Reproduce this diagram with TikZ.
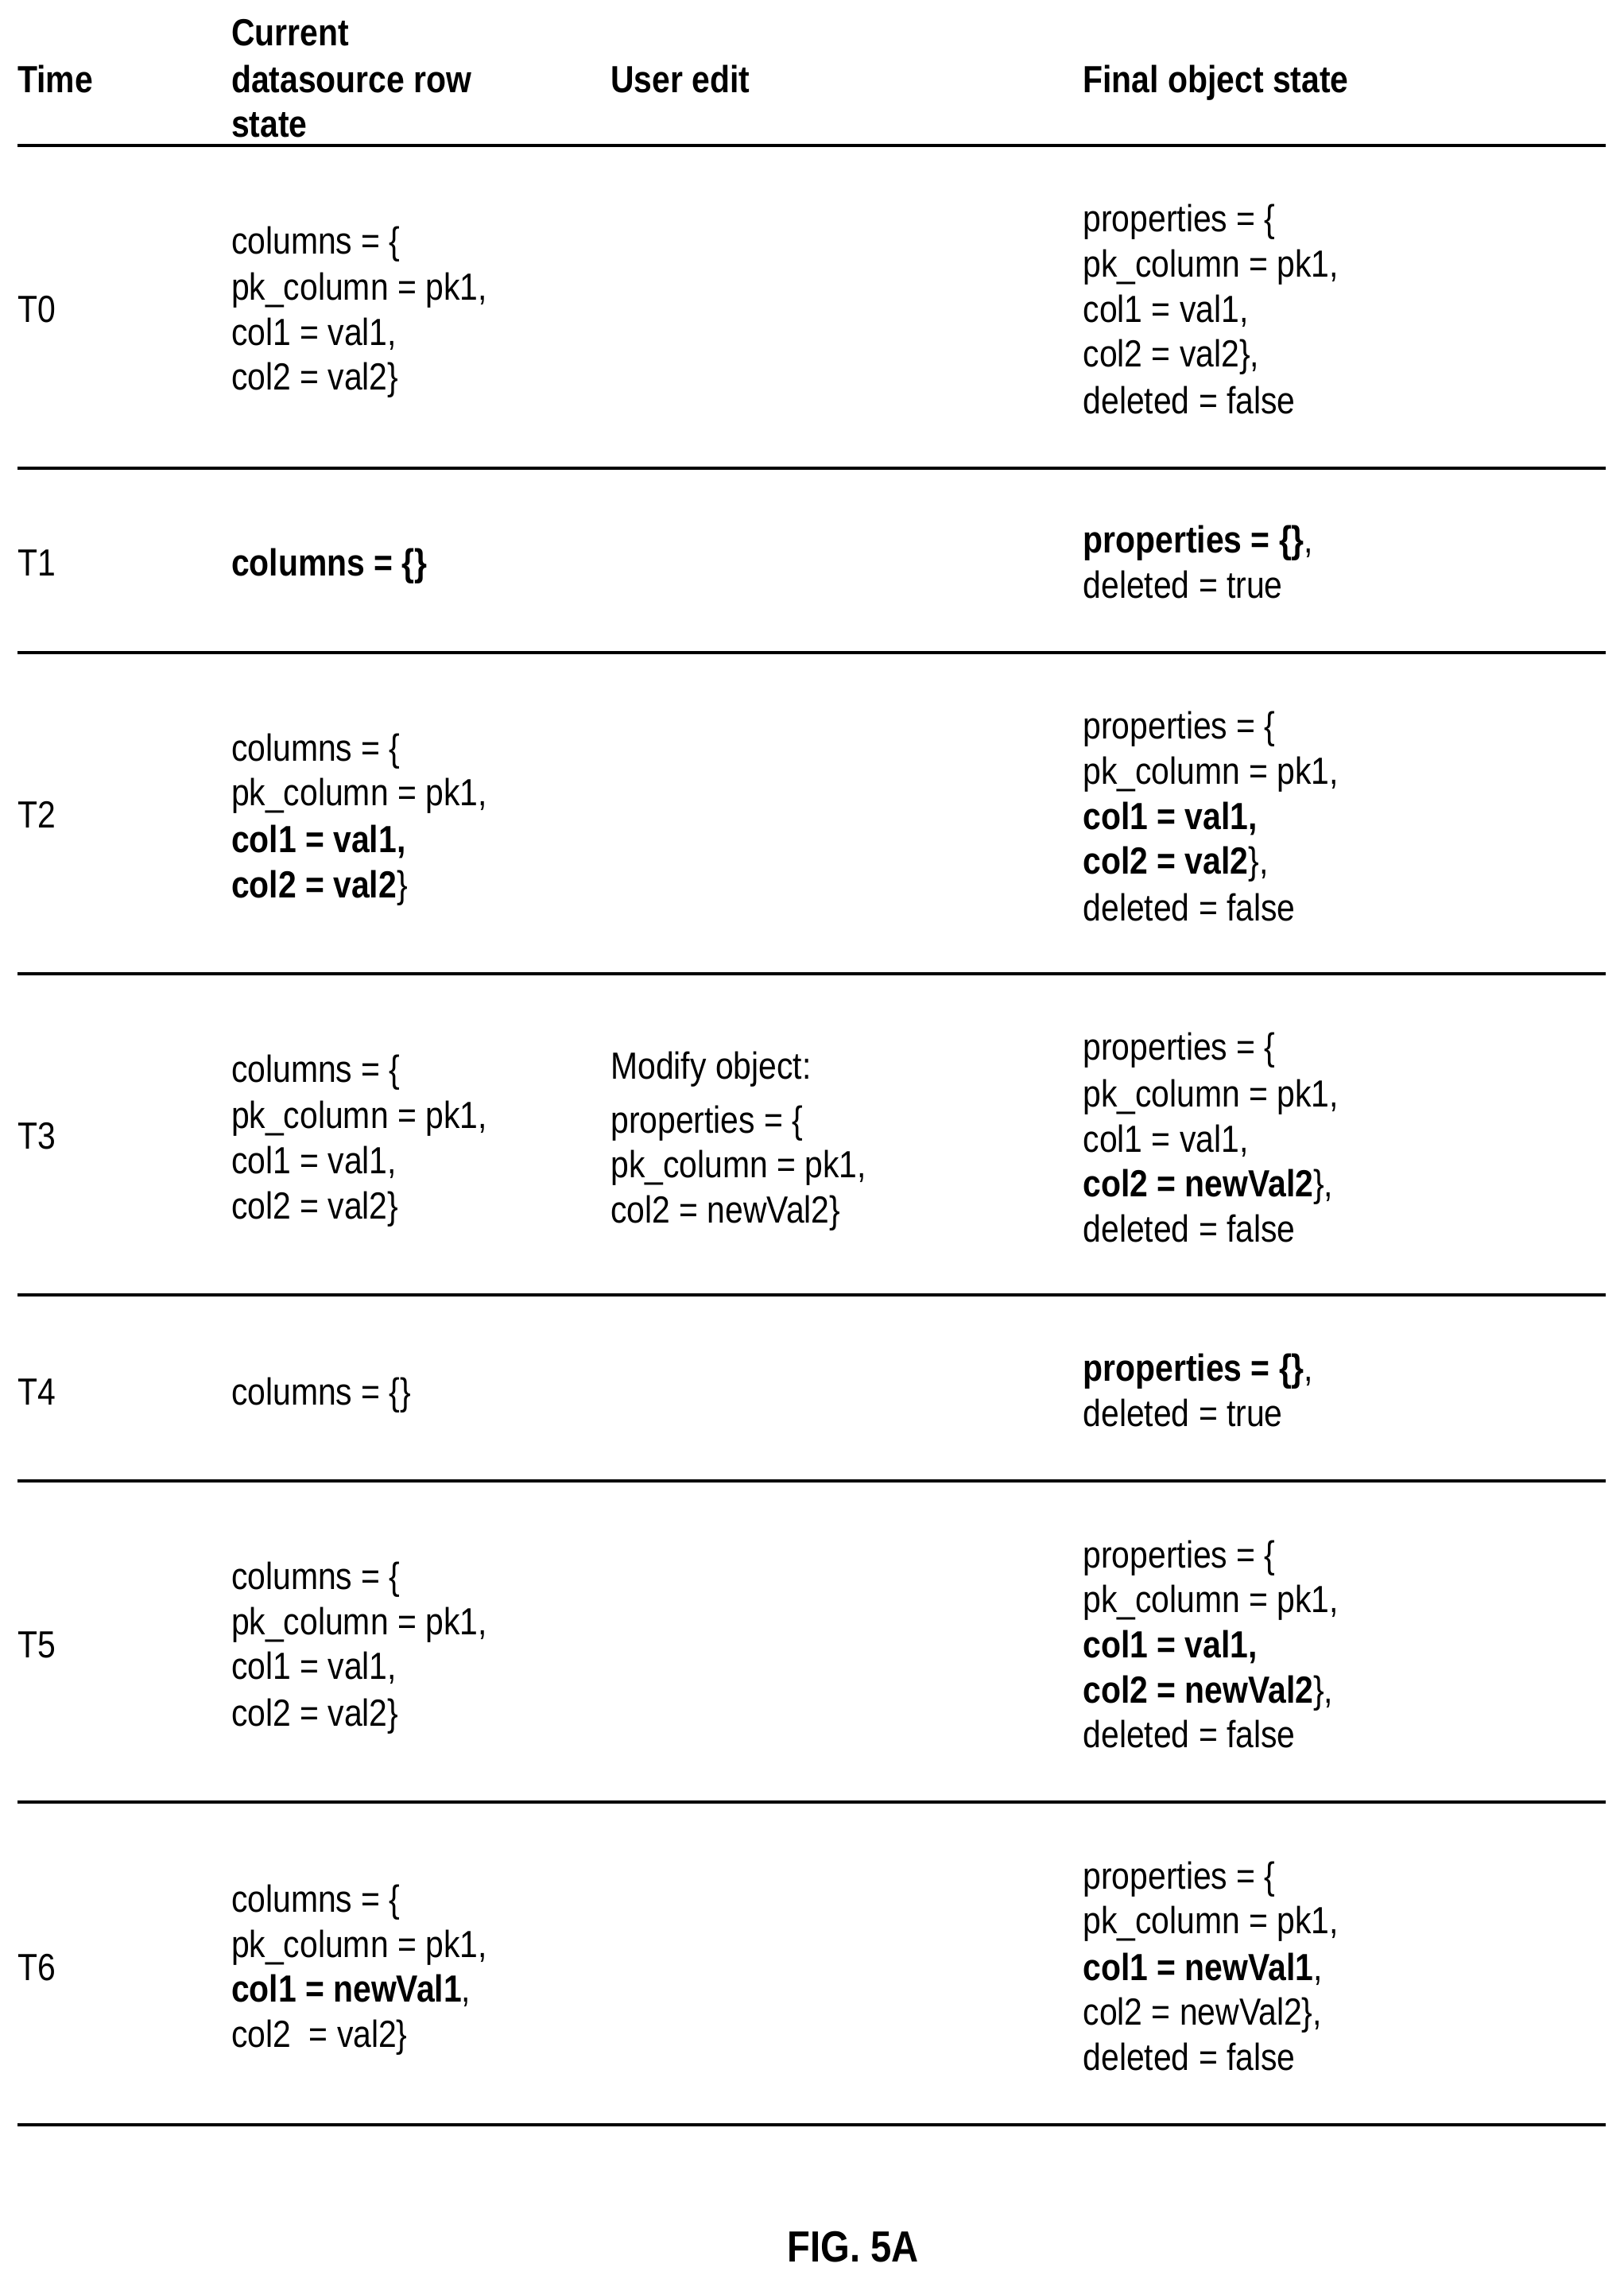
\documentclass[tikz,border=0pt]{standalone}
\usepackage{fontspec}
\setmainfont[FakeStretch=0.86]{Liberation Sans}
\newcommand\cl[4]{\node[txt] (#1) at (#2,-#3) {#4};}
\begin{document}
\begin{tikzpicture}[x=1pt,y=1pt,
  txt/.style={anchor=west,inner sep=0pt,text height=19pt,text depth=0pt,font=\fontsize{26}{31}\selectfont},
  rule/.style={line width=2pt}]
\useasboundingbox (0,0) rectangle (1117,-1568);
\fill[white] (0,0) rectangle (1117,-1568);
% header
\cl{h1}{12}{54}{\bfseries Time}
\cl{h2a}{159}{22}{\bfseries Current}
\cl{h2b}{159}{54}{\bfseries datasource row}
\cl{h2c}{159}{85}{\bfseries state}
\cl{h3}{420}{54}{\bfseries User edit}
\cl{h4}{745}{54}{\bfseries Final object state}
% rules
\foreach \y [count=\i] in {100,322,449,670,891,1019,1240,1462}
  {\coordinate (l\i) at (12,-\y); \coordinate (r\i) at (1105,-\y); \draw[rule] (l\i) -- (r\i);}
% T0
\cl{t0}{12}{212}{T0}
\cl{t0a}{159}{165}{columns = \{}
\cl{t0b}{159}{197}{pk\_column = pk1,}
\cl{t0c}{159}{228}{col1 = val1,}
\cl{t0d}{159}{259}{col2 = val2\}}
\cl{t0e}{745}{150}{properties = \{}
\cl{t0f}{745}{181}{pk\_column = pk1,}
\cl{t0g}{745}{212}{col1 = val1,}
\cl{t0h}{745}{243}{col2 = val2\},}
\cl{t0i}{745}{275}{deleted = false}
% T1
\cl{t1}{12}{387}{T1}
\cl{t1a}{159}{387}{\bfseries columns = \{\}}
\cl{t1b}{745}{371}{\textbf{properties = \{\}},}
\cl{t1c}{745}{402}{deleted = true}
% T2
\cl{t2}{12}{560}{T2}
\cl{t2a}{159}{514}{columns = \{}
\cl{t2b}{159}{545}{pk\_column = pk1,}
\cl{t2c}{159}{577}{\bfseries col1 = val1,}
\cl{t2d}{159}{608}{\textbf{col2 = val2}\}}
\cl{t2e}{745}{499}{properties = \{}
\cl{t2f}{745}{530}{pk\_column = pk1,}
\cl{t2g}{745}{561}{\bfseries col1 = val1,}
\cl{t2h}{745}{592}{\textbf{col2 = val2}\},}
\cl{t2i}{745}{624}{deleted = false}
% T3
\cl{t3}{12}{781}{T3}
\cl{t3a}{159}{735}{columns = \{}
\cl{t3b}{159}{767}{pk\_column = pk1,}
\cl{t3c}{159}{798}{col1 = val1,}
\cl{t3d}{159}{829}{col2 = val2\}}
\cl{t3m}{420}{733}{Modify object:}
\cl{t3n}{420}{770}{properties = \{}
\cl{t3o}{420}{801}{pk\_column = pk1,}
\cl{t3p}{420}{832}{col2 = newVal2\}}
\cl{t3e}{745}{720}{properties = \{}
\cl{t3f}{745}{752}{pk\_column = pk1,}
\cl{t3g}{745}{783}{col1 = val1,}
\cl{t3h}{745}{814}{\textbf{col2 = newVal2}\},}
\cl{t3i}{745}{845}{deleted = false}
% T4
\cl{t4}{12}{957}{T4}
\cl{t4a}{159}{957}{columns = \{\}}
\cl{t4b}{745}{941}{\textbf{properties = \{\}},}
\cl{t4c}{745}{972}{deleted = true}
% T5
\cl{t5}{12}{1131}{T5}
\cl{t5a}{159}{1084}{columns = \{}
\cl{t5b}{159}{1115}{pk\_column = pk1,}
\cl{t5c}{159}{1146}{col1 = val1,}
\cl{t5d}{159}{1178}{col2 = val2\}}
\cl{t5e}{745}{1069}{properties = \{}
\cl{t5f}{745}{1100}{pk\_column = pk1,}
\cl{t5g}{745}{1131}{\bfseries col1 = val1,}
\cl{t5h}{745}{1162}{\textbf{col2 = newVal2}\},}
\cl{t5i}{745}{1193}{deleted = false}
% T6
\cl{t6}{12}{1353}{T6}
\cl{t6a}{159}{1306}{columns = \{}
\cl{t6b}{159}{1337}{pk\_column = pk1,}
\cl{t6c}{159}{1368}{\textbf{col1 = newVal1},}
\cl{t6d}{159}{1399}{col2 \ = val2\}}
\cl{t6e}{745}{1290}{properties = \{}
\cl{t6f}{745}{1321}{pk\_column = pk1,}
\cl{t6g}{745}{1353}{\textbf{col1 = newVal1},}
\cl{t6h}{745}{1384}{col2 = newVal2\},}
\cl{t6i}{745}{1415}{deleted = false}
% caption
\node[inner sep=0pt,font=\fontsize{30}{36}\selectfont\bfseries] (fig) at (587,-1546) {FIG. 5A};
\end{tikzpicture}
\end{document}
